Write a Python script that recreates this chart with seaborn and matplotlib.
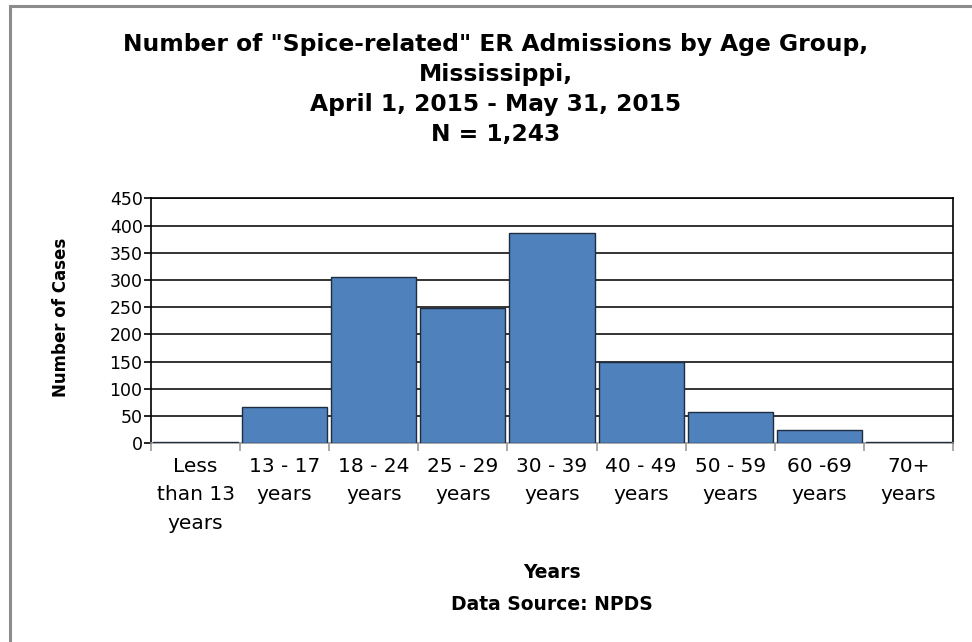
import numpy as np
import pandas as pd
import seaborn as sns
import matplotlib.pyplot as plt
from matplotlib.patches import Rectangle

# age groups and case counts (N = 1,243)
age_groups = ["Less\nthan 13\nyears", "13 - 17\nyears", "18 - 24\nyears", "25 - 29\nyears",
              "30 - 39\nyears", "40 - 49\nyears", "50 - 59\nyears", "60 -69\nyears", "70+\nyears"]
cases = [2, 66, 306, 249, 386, 149, 58, 25, 2]
y_ticks = list(range(0, 451, 50))

df = pd.DataFrame({"age": age_groups, "cases": cases})

sns.set_style("white")
plt.rcParams['font.family'] = ['DejaVu Sans']
plt.rcParams['text.color'] = 'black'
plt.rcParams['xtick.color'] = 'black'
plt.rcParams['ytick.color'] = 'black'

fig = plt.figure(figsize=(9.72, 6.42), dpi=100)
ax = fig.add_axes([0.1553, 0.3095, 0.8252, 0.3815])

sns.barplot(data=df, x="age", y="cases", color="#4F81BD", saturation=1,
            width=0.955, edgecolor="#1f2d40", linewidth=1.0, ax=ax, zorder=3)

ax.set_ylim(0, 450)
ax.set_xlim(-0.5, len(age_groups) - 0.5)
ax.set_yticks(y_ticks)
ax.set_yticklabels([str(t) for t in y_ticks], fontsize=12.5)
for t in y_ticks[1:]:
    ax.axhline(t, color="#111111", lw=1.2, zorder=1)

# category boundaries get the ticks, the labels sit in between
ax.set_xticks(np.arange(-0.5, len(age_groups), 1))
ax.set_xticklabels([])
ax.set_xticks(range(len(age_groups)), minor=True)
ax.set_xticklabels(age_groups, minor=True, fontsize=14.5, linespacing=1.62)
ax.tick_params(axis="x", which="major", bottom=True, length=6, width=1.2,
               color="#999999", direction="out")
ax.tick_params(axis="x", which="minor", bottom=True, length=0, pad=10)
ax.tick_params(axis="y", left=True, length=5, width=1.2, color="black",
               direction="out", pad=1)

for side in ["left", "top", "right"]:
    ax.spines[side].set_color("black")
    ax.spines[side].set_linewidth(1.2)
ax.spines["bottom"].set_color("#999999")
ax.spines["bottom"].set_linewidth(1.2)

ax.set_xlabel("")
ax.set_ylabel("")
fig.text(0.063, 0.506, "Number of Cases", rotation=90, ha="center", va="center",
         fontsize=12, fontweight="bold")

title_lines = ['Number of "Spice-related" ER Admissions by Age Group,', "Mississippi,",
               "April 1, 2015 - May 31, 2015", "N = 1,243"]
for i, line in enumerate(title_lines):
    fig.text(0.510, 0.931 - i * 0.0467, line, ha="center", va="center", fontsize=16.8,
             fontweight="bold")

fig.text(0.568, 0.109, "Years", ha="center", va="center", fontsize=13.5, fontweight="bold")
fig.text(0.568, 0.058, "Data Source: NPDS", ha="center", va="center", fontsize=13.5,
         fontweight="bold")

# grey frame round the whole chart
fig.patches.append(Rectangle((0.0098, -0.05), 1.2, 1.0399, transform=fig.transFigure,
                             fill=False, edgecolor="#8c8c8c", lw=2.2))

fig.savefig("out.png", dpi=100)
